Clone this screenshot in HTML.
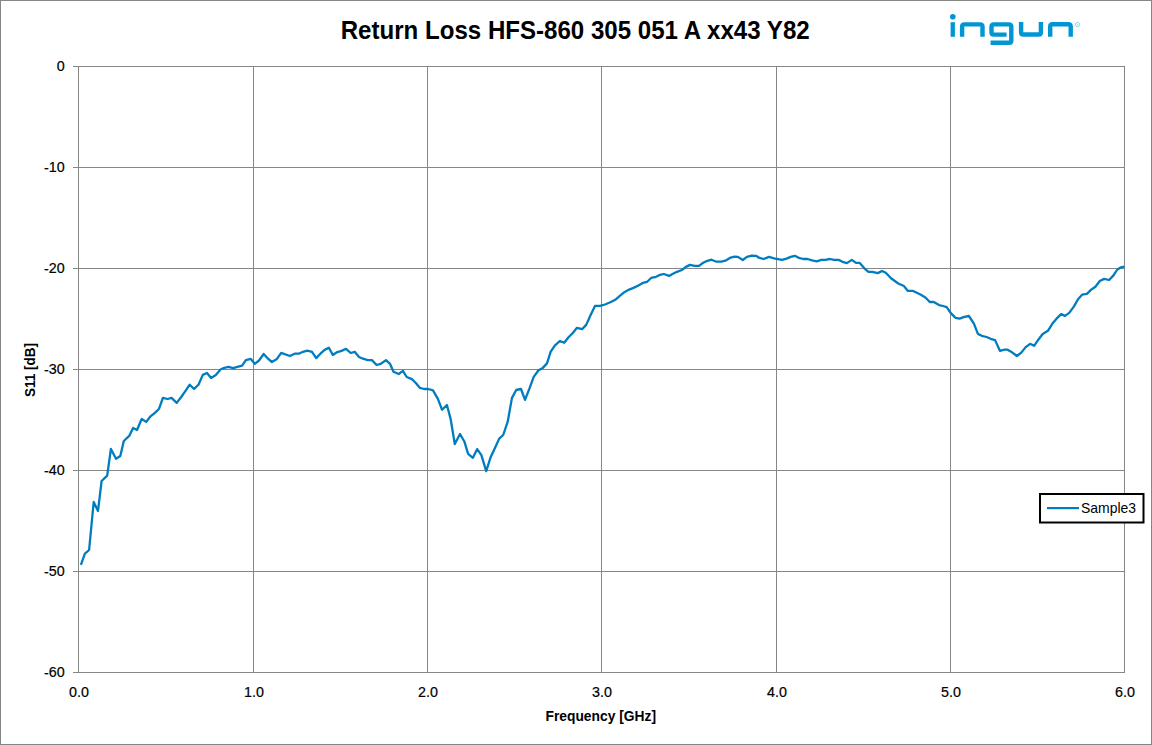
<!DOCTYPE html>
<html><head><meta charset="utf-8"><title>Return Loss</title>
<style>
html,body{margin:0;padding:0;background:#fff;width:1152px;height:745px;overflow:hidden}
svg{display:block}
text{font-family:"Liberation Sans",sans-serif;fill:#000}
</style></head><body>
<svg width="1152" height="745" viewBox="0 0 1152 745">
<rect x="0" y="0" width="1152" height="745" fill="#fff"/>
<rect x="0.5" y="0.5" width="1151" height="744" fill="none" stroke="#868686" stroke-width="1"/>
<g stroke="#868686" stroke-width="1" shape-rendering="crispEdges">
<line x1="73" y1="66.5" x2="1125" y2="66.5"/>
<line x1="73" y1="167.5" x2="1125" y2="167.5"/>
<line x1="73" y1="268.5" x2="1125" y2="268.5"/>
<line x1="73" y1="369.5" x2="1125" y2="369.5"/>
<line x1="73" y1="470.5" x2="1125" y2="470.5"/>
<line x1="73" y1="571.5" x2="1125" y2="571.5"/>
<line x1="73" y1="672.5" x2="1125" y2="672.5"/>
<line x1="78.5" y1="66" x2="78.5" y2="673"/>
<line x1="253.5" y1="66" x2="253.5" y2="673"/>
<line x1="427.5" y1="66" x2="427.5" y2="673"/>
<line x1="601.5" y1="66" x2="601.5" y2="673"/>
<line x1="776.5" y1="66" x2="776.5" y2="673"/>
<line x1="950.5" y1="66" x2="950.5" y2="673"/>
<line x1="1124.5" y1="66" x2="1124.5" y2="673"/>
</g>
<polyline points="80.9,564.9 84.9,553.7 89.1,550.0 93.7,502.0 98.0,510.9 101.6,481.0 107.2,475.6 110.9,449.0 116.0,458.8 120.3,456.0 123.8,441.0 129.2,435.9 133.1,427.9 137.0,430.0 141.7,419.0 146.2,421.9 150.2,416.7 154.9,412.9 159.1,408.7 162.9,397.9 167.6,399.0 171.5,397.9 176.7,402.9 181.2,397.0 185.5,390.8 189.7,384.7 194.1,389.0 198.6,384.5 202.8,374.9 207.0,373.0 211.1,377.9 215.8,375.1 220.5,369.5 224.3,367.8 228.5,366.9 233.2,368.1 237.4,366.9 242.1,365.7 245.9,360.1 250.8,358.9 254.8,363.8 259.0,360.5 263.7,354.0 268.0,358.7 271.9,362.0 276.9,358.9 281.2,352.8 289.9,356.0 294.6,353.7 298.8,353.7 303.0,351.8 307.3,350.7 312.0,351.8 316.2,358.1 320.4,353.7 324.6,349.9 328.9,347.8 332.8,354.9 337.3,352.1 341.6,350.9 346.0,348.8 350.7,353.0 354.7,351.8 359.0,357.0 363.0,358.7 367.7,360.1 371.9,360.1 376.6,365.0 380.8,363.8 386.0,360.1 390.0,363.8 393.5,371.8 398.7,374.0 402.9,370.9 406.7,377.0 411.9,379.1 415.6,382.8 419.8,387.8 424.1,389.0 428.3,389.0 433.0,390.4 437.9,398.9 442.1,409.8 446.9,405.0 450.6,418.9 454.8,444.0 460.0,434.0 464.5,441.8 468.1,453.9 472.9,457.8 477.2,449.1 481.4,455.1 486.2,471.1 490.5,457.6 495.3,447.3 499.2,438.6 503.2,435.0 507.7,421.7 511.9,398.1 516.2,390.0 521.0,389.0 525.0,399.9 529.5,388.4 533.7,376.9 538.5,370.3 542.8,367.9 547.0,363.4 550.7,351.7 555.0,345.3 559.9,341.0 564.2,342.8 568.5,337.2 572.8,333.0 577.0,327.8 582.1,329.2 586.2,324.9 590.5,315.2 595.0,305.9 600.1,305.9 605.0,304.5 610.3,302.3 615.2,299.8 619.8,295.8 624.7,291.9 629.1,289.6 633.5,287.9 638.4,285.5 642.8,282.9 647.2,281.8 651.3,277.8 656.1,276.8 660.1,274.8 663.8,274.0 669.0,275.9 673.0,273.8 677.0,271.8 681.9,270.0 685.9,266.9 689.9,264.9 694.5,265.9 699.0,265.9 703.2,262.8 707.4,260.8 711.5,259.7 716.4,261.7 721.3,261.7 725.4,260.7 729.9,257.9 734.4,256.7 737.9,256.9 742.8,260.0 746.9,256.9 751.8,255.7 756.0,255.8 759.4,257.9 763.6,259.0 769.0,256.9 774.0,258.3 782.0,259.9 786.5,258.6 790.7,256.9 794.9,255.8 799.0,257.9 803.2,259.0 807.4,259.0 812.2,260.3 816.7,261.3 821.3,259.9 825.4,259.9 829.9,259.0 834.1,259.9 838.6,259.9 842.5,261.8 846.9,263.1 851.8,259.9 856.0,262.9 859.8,262.9 864.3,268.3 868.5,271.9 872.3,271.9 877.8,273.1 882.0,271.0 885.8,272.8 891.0,278.3 898.3,283.5 903.9,286.0 907.7,290.8 912.6,290.8 920.9,294.8 925.7,297.7 929.8,302.0 933.8,302.0 939.0,305.1 943.0,306.0 946.7,307.2 950.8,313.2 955.6,317.8 959.6,318.7 964.4,316.9 968.9,316.0 973.9,323.7 977.9,333.9 981.8,335.8 986.6,337.0 990.7,338.8 995.1,340.1 999.9,350.8 1004.7,349.7 1007.6,349.7 1012.4,352.6 1016.9,356.0 1021.3,352.6 1025.7,347.1 1030.1,343.8 1034.1,345.8 1038.3,339.7 1042.7,334.0 1047.9,330.8 1052.3,323.8 1056.3,318.9 1061.1,314.1 1065.0,315.9 1069.2,312.9 1074.0,306.4 1078.0,299.2 1082.1,294.7 1086.9,293.9 1090.9,289.9 1095.4,286.7 1099.8,281.0 1104.1,278.9 1109.1,280.0 1113.5,275.4 1117.3,269.5 1121.0,267.3 1124.5,266.5" fill="none" stroke="#007dc0" stroke-width="2.3" stroke-linejoin="round" stroke-linecap="butt"/>
<g font-size="14.3" stroke="#000" stroke-width="0.2">
<text x="64.7" y="71" text-anchor="end">0</text>
<text x="64.7" y="172" text-anchor="end"><tspan dy="0.9">-</tspan><tspan dy="-0.9">10</tspan></text>
<text x="64.7" y="273" text-anchor="end"><tspan dy="0.9">-</tspan><tspan dy="-0.9">20</tspan></text>
<text x="64.7" y="374" text-anchor="end"><tspan dy="0.9">-</tspan><tspan dy="-0.9">30</tspan></text>
<text x="64.7" y="475" text-anchor="end"><tspan dy="0.9">-</tspan><tspan dy="-0.9">40</tspan></text>
<text x="64.7" y="576" text-anchor="end"><tspan dy="0.9">-</tspan><tspan dy="-0.9">50</tspan></text>
<text x="64.7" y="677" text-anchor="end"><tspan dy="0.9">-</tspan><tspan dy="-0.9">60</tspan></text>
<text x="79" y="697" text-anchor="middle">0.0</text>
<text x="254" y="697" text-anchor="middle">1.0</text>
<text x="428" y="697" text-anchor="middle">2.0</text>
<text x="602" y="697" text-anchor="middle">3.0</text>
<text x="777" y="697" text-anchor="middle">4.0</text>
<text x="951" y="697" text-anchor="middle">5.0</text>
<text x="1125" y="697" text-anchor="middle">6.0</text>
</g>
<text x="340.7" y="39" font-size="25" font-weight="bold" textLength="469" lengthAdjust="spacingAndGlyphs">Return Loss HFS-860 305 051 A xx43 Y82</text>
<text x="545.5" y="721" font-size="14" font-weight="bold" textLength="110.5" lengthAdjust="spacingAndGlyphs">Frequency [GHz]</text>
<text transform="translate(35.3,397) rotate(-90)" x="0" y="0" font-size="14.8" font-weight="bold" textLength="54" lengthAdjust="spacingAndGlyphs">S11 [dB]</text>
<rect x="1040" y="494" width="103.5" height="28.5" fill="#fff" stroke="#000" stroke-width="2"/>
<line x1="1047" y1="508.1" x2="1079" y2="508.1" stroke="#007dc0" stroke-width="2.2"/>
<text x="1081" y="513" font-size="14.2" textLength="55" lengthAdjust="spacingAndGlyphs">Sample3</text>
<g fill="#0096d4">
<circle cx="952.8" cy="16.8" r="2.8"/>
<rect x="950.6" y="22.2" width="4.3" height="14.6"/>
</g>
<g fill="none" stroke="#0096d4" stroke-width="4.4" stroke-linecap="butt" stroke-linejoin="miter">
<path d="M962.1,36.8 V26.7 Q962.1,24.4 964.4,24.4 H980.2 Q982.5,24.4 982.5,26.7 V36.8"/>
<path d="M1006.6,34.6 H993.8 Q991.5,34.6 991.5,32.3 V26.7 Q991.5,24.4 993.8,24.4 H1009 Q1011.3,24.4 1011.3,26.7 V40.4 Q1011.3,42.7 1009,42.7 H990.6"/>
<path d="M1021.1,22 V32.2 Q1021.1,34.5 1023.4,34.5 H1038.6 Q1040.9,34.5 1040.9,32.2 V22"/>
<path d="M1050.2,36.8 V26.5 Q1050.2,24.2 1052.5,24.2 H1068.4 Q1070.7,24.2 1070.7,26.5 V36.8"/>
</g>
<circle cx="1077.5" cy="24.6" r="2.1" fill="none" stroke="#0096d4" stroke-width="0.8" opacity="0.55"/>
<circle cx="1077.5" cy="24.6" r="0.7" fill="#0096d4" opacity="0.4"/>
</svg>
</body></html>
